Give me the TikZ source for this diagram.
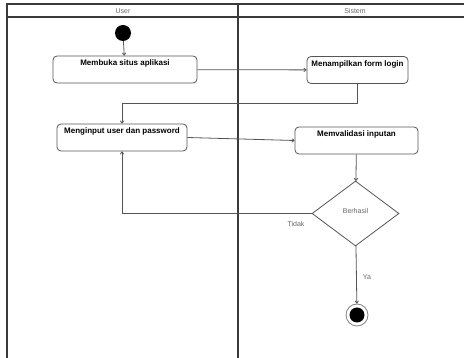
\documentclass[tikz,border=0pt]{standalone}
\usepackage{fontspec}
\setmainfont{Liberation Sans}
\usepackage{tikz}
\usetikzlibrary{arrows.meta}
\usetikzlibrary{shapes.geometric}

\definecolor{garis}{HTML}{555555}
\definecolor{bingkai}{HTML}{3A3A3A}
\definecolor{tulisan}{HTML}{666666}

\begin{document}
\begin{tikzpicture}[x=1pt, y=-1pt]
	\useasboundingbox (0,0) rectangle (464,358);
	% swimlane
	\begin{scope}[draw=bingkai, line width=1.3pt]
		\draw (7,358) -- (7,4) -- (464,4);
		\draw (7,17) -- (464,17);
		\draw (238,4) -- (238,358);
	\end{scope}
	\node[font=\fontsize{7}{8}\selectfont, text=tulisan] (user) at (123,11) {User};
	\node[font=\fontsize{7}{8}\selectfont, text=tulisan] (sistem) at (355,11) {Sistem};
	\begin{scope}[every node/.style = {draw=garis, rounded corners=4pt, thick,
			font = \fontsize{8}{9}\selectfont\bfseries, inner xsep=2pt, inner ysep=2pt,
			text height=8pt, text depth=15pt}]
		\node[minimum width=144pt] (buka) at (125,69.5) {Membuka situs aplikasi};
		\node[minimum width=101pt] (login) at (357.5,70) {Menampilkan form login};
		\node[minimum width=130pt] (input) at (122,137.5) {Menginput user dan password};
		\node[minimum width=123pt] (validasi) at (356.5,140.5) {Memvalidasi inputan};
	\end{scope}
	\node[circle, fill=black, minimum size=16pt, inner sep=0pt] (mulai) at (123,33) {};
	\node[diamond, draw=garis, thick, minimum width=87pt, minimum height=65pt, inner sep=0pt,
		font=\fontsize{7}{8}\selectfont, text=tulisan, text depth=6pt] (cek) at (355.5,213.5) {Berhasil};
	\node[circle, draw=gray, thick, minimum size=22pt, inner sep=0pt,
		path picture={\fill (path picture bounding box.center) circle (7.5pt);}] (akhir) at (357,315) {};
	\begin{scope}[>={To[length=3pt, width=4pt]},
			every edge/.style={draw=garis, thick}]
		\path [->] (mulai) edge (buka);
		\path [->] (buka) edge (login);
		\path [->] (login.south) edge [to path={-- ++(0,20) -| (\tikztotarget)}] (input.north);
		\path [->] (input.east) edge (validasi.west);
		\path [->] (validasi) edge (cek);
		\path [->] (cek.west) edge [to path={-| (\tikztotarget)}] (input.south);
		\path [->] (cek) edge (akhir);
	\end{scope}
	\node[font=\fontsize{7}{8}\selectfont, text=tulisan] (tidak) at (296,224) {Tidak};
	\node[font=\fontsize{7}{8}\selectfont, text=tulisan] (ya) at (367,277) {Ya};
\end{tikzpicture}
\end{document}
